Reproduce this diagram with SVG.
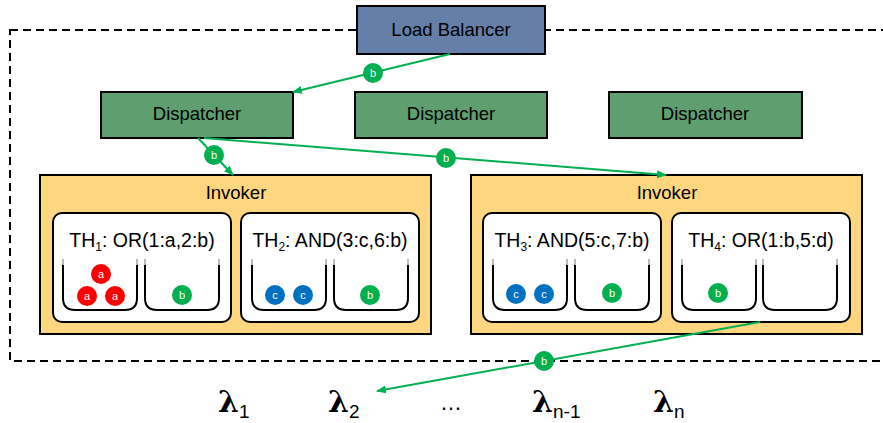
<svg xmlns="http://www.w3.org/2000/svg" width="883" height="423" viewBox="0 0 883 423">
<style>
text{font-family:"Liberation Sans","DejaVu Sans",sans-serif;fill:#000}
.lbl{font-size:18.5px;text-anchor:middle}
.ttl{font-size:19.5px;text-anchor:middle}
.box{stroke:#000;stroke-width:2}
.lb{fill:#6580A8}
.disp{fill:#5F9E6E}
.inv{fill:#FED680}
.th{fill:#fff;stroke:#000;stroke-width:2}
.bucket{fill:none;stroke:#000;stroke-width:2}
.btop{fill:none;stroke:#bbb;stroke-width:2}
.ball text{font-size:11px;fill:#fff;text-anchor:middle}
.ra{fill:#FF0000}.gb{fill:#00B050}.bc{fill:#0070C0}
.conn{stroke:#00B050;stroke-width:2;fill:none;marker-end:url(#ah)}
.lam{font-family:"DejaVu Serif","Liberation Serif",serif;font-weight:bold;font-size:30px}
.sub{font-family:"Liberation Sans",sans-serif;font-weight:normal;font-size:19px}
</style>
<defs>
<marker id="ah" viewBox="0 0 10 8" refX="9" refY="4" markerWidth="10" markerHeight="8" markerUnits="userSpaceOnUse" orient="auto">
<path d="M0,0 L10,4 L0,8 z" fill="#00B050"/>
</marker>
</defs>
<rect width="883" height="423" fill="#fff"/>
<rect id="boundary" x="10" y="30" width="900" height="331" fill="none" stroke="#000" stroke-width="2" stroke-dasharray="8 5"/>

<g id="loadbalancer"><rect class="box lb" x="357" y="6" width="188" height="48"/><text class="lbl" x="451" y="36">Load Balancer</text></g>
<g id="dispatcher1"><rect class="box disp" x="101" y="92" width="192" height="46"/><text class="lbl" x="197" y="120">Dispatcher</text></g>
<g id="dispatcher2"><rect class="box disp" x="355" y="92" width="192" height="46"/><text class="lbl" x="451" y="120">Dispatcher</text></g>
<g id="dispatcher3"><rect class="box disp" x="609" y="92" width="193" height="46"/><text class="lbl" x="705" y="120">Dispatcher</text></g>

<g id="invoker1">
<rect class="box inv" x="40" y="175" width="391" height="159"/>
<text class="lbl" x="236" y="199">Invoker</text>
<g id="th1">
<rect class="th" x="53" y="213" width="178" height="109" rx="9"/>
<text class="ttl" x="142" y="247">TH<tspan font-size="12" dy="4">1</tspan><tspan dy="-4">: OR(1:a,2:b)</tspan></text>
<path class="btop" d="M63,259 V266 M137,259 V266 M145,259 V266 M219,259 V266"/>
<path class="bucket" d="M63,265 V298 Q63,310 75,310 H125 Q137,310 137,298 V265 M145,265 V298 Q145,310 157,310 H207 Q219,310 219,298 V265"/>
<g class="ball"><circle class="ra" cx="101" cy="274" r="10"/><text x="101" y="278">a</text></g>
<g class="ball"><circle class="ra" cx="87" cy="296" r="10"/><text x="87" y="300">a</text></g>
<g class="ball"><circle class="ra" cx="115" cy="296" r="10"/><text x="115" y="300">a</text></g>
<g class="ball"><circle class="gb" cx="182" cy="295" r="10"/><text x="182" y="299">b</text></g>
</g>
<g id="th2">
<rect class="th" x="241" y="213" width="178" height="109" rx="9"/>
<text class="ttl" x="330" y="247">TH<tspan font-size="12" dy="4">2</tspan><tspan dy="-4">: AND(3:c,6:b)</tspan></text>
<path class="btop" d="M252,259 V266 M326,259 V266 M334,259 V266 M408,259 V266"/>
<path class="bucket" d="M252,265 V298 Q252,310 264,310 H314 Q326,310 326,298 V265 M334,265 V298 Q334,310 346,310 H396 Q408,310 408,298 V265"/>
<g class="ball"><circle class="bc" cx="275" cy="295" r="10"/><text x="275" y="299">c</text></g>
<g class="ball"><circle class="bc" cx="303" cy="295" r="10"/><text x="303" y="299">c</text></g>
<g class="ball"><circle class="gb" cx="370" cy="295" r="10"/><text x="370" y="299">b</text></g>
</g>
</g>

<g id="invoker2">
<rect class="box inv" x="471" y="175" width="391" height="159"/>
<text class="lbl" x="667" y="199">Invoker</text>
<g id="th3">
<rect class="th" x="483" y="213" width="178" height="109" rx="9"/>
<text class="ttl" x="572" y="247">TH<tspan font-size="12" dy="4">3</tspan><tspan dy="-4">: AND(5:c,7:b)</tspan></text>
<path class="btop" d="M493,259 V266 M567,259 V266 M575,259 V266 M649,259 V266"/>
<path class="bucket" d="M493,265 V298 Q493,310 505,310 H555 Q567,310 567,298 V265 M575,265 V298 Q575,310 587,310 H637 Q649,310 649,298 V265"/>
<g class="ball"><circle class="bc" cx="516" cy="294" r="10"/><text x="516" y="298">c</text></g>
<g class="ball"><circle class="bc" cx="544" cy="294" r="10"/><text x="544" y="298">c</text></g>
<g class="ball"><circle class="gb" cx="612" cy="293" r="10"/><text x="612" y="297">b</text></g>
</g>
<g id="th4">
<rect class="th" x="672" y="213" width="178" height="109" rx="9"/>
<text class="ttl" x="761" y="247">TH<tspan font-size="12" dy="4">4</tspan><tspan dy="-4">: OR(1:b,5:d)</tspan></text>
<path class="btop" d="M682,259 V266 M756,259 V266 M763,259 V266 M837,259 V266"/>
<path class="bucket" d="M682,265 V298 Q682,310 694,310 H744 Q756,310 756,298 V265 M763,265 V298 Q763,310 775,310 H825 Q837,310 837,298 V265"/>
<g class="ball"><circle class="gb" cx="718" cy="293" r="10"/><text x="718" y="297">b</text></g>
</g>
</g>

<g id="connectors">
<path class="conn" d="M450,54 L293,92"/>
<path class="conn" d="M198,138 L233,175"/>
<path class="conn" d="M204,138 L666,175"/>
<path class="conn" d="M760,322 L377,391"/>
<g class="ball"><circle class="gb" cx="373" cy="73" r="10"/><text x="373" y="77">b</text></g>
<g class="ball"><circle class="gb" cx="214" cy="155" r="10"/><text x="214" y="159">b</text></g>
<g class="ball"><circle class="gb" cx="446" cy="158" r="10"/><text x="446" y="162">b</text></g>
<g class="ball"><circle class="gb" cx="544" cy="361" r="10"/><text x="544" y="365">b</text></g>
</g>

<g id="lambdas">
<text class="lam" x="218" y="412">λ<tspan class="sub" dy="6">1</tspan></text>
<text class="lam" x="328" y="412">λ<tspan class="sub" dy="6">2</tspan></text>
<text x="440" y="410" font-size="22">…</text>
<text class="lam" x="532" y="412">λ<tspan class="sub" dy="6">n-1</tspan></text>
<text class="lam" x="653" y="412">λ<tspan class="sub" dy="6">n</tspan></text>
</g>
</svg>
